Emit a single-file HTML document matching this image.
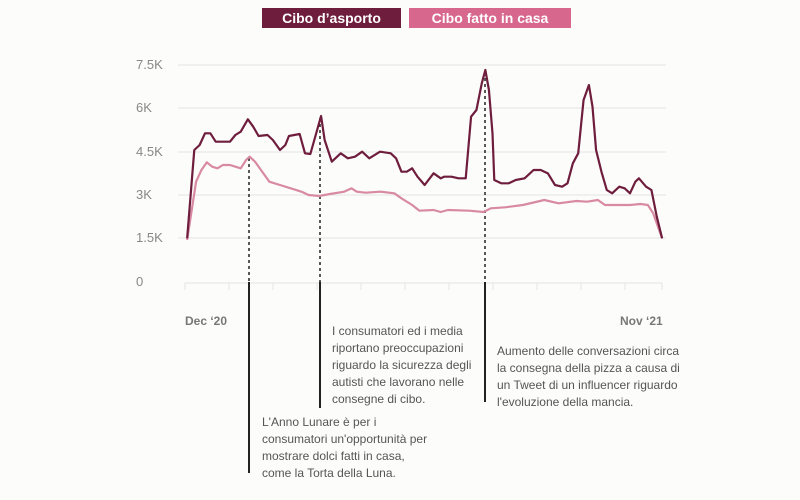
<!DOCTYPE html>
<html><head><meta charset="utf-8"><style>
body{margin:0;background:#fff;}
.w{position:relative;width:800px;height:500px;overflow:hidden;background:#fcfcfb;font-family:"Liberation Sans",sans-serif;}
.lg{position:absolute;top:8px;height:20px;color:#fff;font-weight:bold;font-size:14px;line-height:20px;text-align:center;}
.yl{position:absolute;left:136px;font-size:13px;color:#888;width:40px;}
.t{position:absolute;font-size:12px;line-height:17px;color:#555;}
.x{position:absolute;font-size:12px;font-weight:bold;color:#777;top:314px;}
</style></head><body><div class="w">
<div class="lg" style="left:262px;width:139px;background:#6e1d3d">Cibo d’asporto</div>
<div class="lg" style="left:409px;width:162px;background:#d7678c">Cibo fatto in casa</div>
<div class="yl" style="top:57px">7.5K</div>
<div class="yl" style="top:100px">6K</div>
<div class="yl" style="top:144px">4.5K</div>
<div class="yl" style="top:187px">3K</div>
<div class="yl" style="top:230px">1.5K</div>
<div class="yl" style="top:274px">0</div>
<svg width="800" height="500" style="position:absolute;left:0;top:0">
<g stroke="#e4e4e4" stroke-width="1">
<line x1="178" y1="65" x2="666" y2="65"/><line x1="178" y1="108" x2="666" y2="108"/>
<line x1="178" y1="152" x2="666" y2="152"/><line x1="178" y1="195" x2="666" y2="195"/>
<line x1="178" y1="238" x2="666" y2="238"/><line x1="185" y1="283" x2="662" y2="283"/>
<line x1="185" y1="283" x2="185" y2="290"/><line x1="229" y1="283" x2="229" y2="290"/><line x1="273" y1="283" x2="273" y2="290"/><line x1="317" y1="283" x2="317" y2="290"/><line x1="361" y1="283" x2="361" y2="290"/><line x1="405" y1="283" x2="405" y2="290"/><line x1="449" y1="283" x2="449" y2="290"/><line x1="493" y1="283" x2="493" y2="290"/><line x1="537" y1="283" x2="537" y2="290"/><line x1="581" y1="283" x2="581" y2="290"/><line x1="625" y1="283" x2="625" y2="290"/><line x1="662" y1="283" x2="662" y2="290"/>
</g>
<g stroke="#222" stroke-width="1.5" stroke-dasharray="3,3">
<line x1="249" y1="158" x2="249" y2="282"/><line x1="320" y1="118" x2="320" y2="282"/><line x1="485" y1="72" x2="485" y2="282"/>
</g>
<g stroke="#222" stroke-width="2">
<line x1="249" y1="282" x2="249" y2="473"/><line x1="320" y1="282" x2="320" y2="408"/><line x1="485" y1="282" x2="485" y2="402"/>
</g>
<g transform="translate(130,0) scale(0.35714,0.33333)" fill="none" stroke-linejoin="round">
<polyline vector-effect="non-scaling-stroke" stroke="#d98aa3" stroke-width="2.2" points="160,720 185,545 200,510 215,487 230,500 245,505 260,495 280,495 295,500 310,505 325,480 335,470 350,485 370,515 390,545 420,555 450,565 480,575 500,585 530,588 560,582 600,575 620,565 635,575 660,578 700,575 740,580 760,595 790,615 810,632 850,630 870,636 890,630 950,632 990,636 1010,625 1050,622 1100,615 1160,600 1200,610 1250,603 1280,605 1310,600 1330,615 1360,615 1400,615 1430,612 1450,615 1465,640 1490,715"/>
<polyline vector-effect="non-scaling-stroke" stroke="#6e1d3d" stroke-width="2.2" points="160,715 180,450 195,435 210,400 225,400 240,425 280,425 295,405 310,395 330,358 345,380 360,408 385,405 400,420 420,450 435,435 445,408 475,402 490,460 505,462 520,405 535,348 545,420 565,485 590,460 610,475 630,470 650,455 670,475 700,455 730,460 745,475 760,515 775,515 790,505 805,530 825,555 850,520 870,535 880,530 900,530 920,535 940,535 955,350 970,330 985,250 995,210 1005,270 1015,400 1020,540 1040,550 1060,550 1080,540 1105,535 1130,510 1150,510 1170,520 1190,555 1210,560 1225,550 1240,490 1255,460 1270,300 1285,255 1295,320 1305,450 1320,515 1335,570 1350,580 1370,560 1385,565 1400,580 1415,545 1425,535 1445,560 1460,570 1475,650 1490,715"/>
</g>
</svg>
<div class="x" style="left:185px">Dec ‘20</div>
<div class="x" style="left:620px">Nov ‘21</div>
<div class="t" style="left:332px;top:323px">I consumatori ed i media<br>riportano preoccupazioni<br>riguardo la sicurezza degli<br>autisti che lavorano nelle<br>consegne di cibo.</div>
<div class="t" style="left:497px;top:343px">Aumento delle conversazioni circa<br>la consegna della pizza a causa di<br>un Tweet di un influencer riguardo<br>l'evoluzione della mancia.</div>
<div class="t" style="left:262px;top:414px">L'Anno Lunare è per i<br>consumatori un'opportunità per<br>mostrare dolci fatti in casa,<br>come la Torta della Luna.</div>
</div></body></html>
